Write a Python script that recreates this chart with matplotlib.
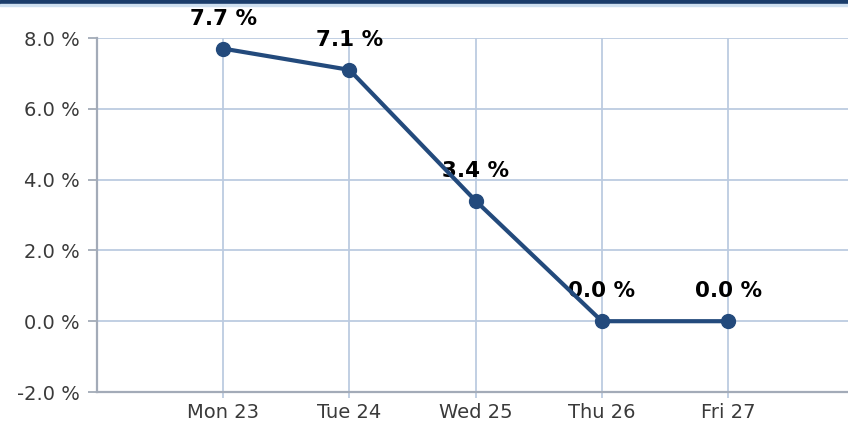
import matplotlib.pyplot as plt
from matplotlib.patches import Rectangle

days = ["Mon 23", "Tue 24", "Wed 25", "Thu 26", "Fri 27"]
change = [7.7, 7.1, 3.4, 0.0, 0.0]
yticks = [-2, 0, 2, 4, 6, 8]

navy = "#234a7c"
grid_col = "#bccbe0"
axis_col = "#a3abb8"

fig = plt.figure(figsize=(8.48, 4.28), dpi=100)
ax = fig.add_axes([97 / 848, 1 - 392 / 428, 1 - 97 / 848, (392 - 38) / 428])

# top banner
fig.patches.append(Rectangle((0, 1 - 4 / 428), 1, 4 / 428, transform=fig.transFigure,
                             color="#1b3d6b", zorder=0))
fig.patches.append(Rectangle((0, 1 - 6 / 428), 1, 2 / 428, transform=fig.transFigure,
                             color="#cfe0f0", zorder=0))

x = list(range(1, len(days) + 1))
ax.plot(x, change, color=navy, lw=3, marker="o", ms=10, zorder=3, clip_on=False)

for xi, v in zip(x, change):
    ax.annotate(f"{v:.1f} %", (xi, v), xytext=(0, 21.5), textcoords="offset points",
                ha="center", va="center", fontsize=15.5, fontweight="bold",
                family="DejaVu Sans", color="black", zorder=2)

ax.set_xlim(0, 5.95)
ax.set_ylim(-2, 8)
ax.set_xticks(x)
ax.set_xticklabels(days)
ax.set_yticks(yticks)
ax.set_yticklabels([f"{t:.1f} %" for t in yticks])

ax.grid(True, color=grid_col, lw=1.3)
ax.set_axisbelow(True)
for s in ["top", "right"]:
    ax.spines[s].set_visible(False)
for s in ["left", "bottom"]:
    ax.spines[s].set_color(axis_col)
    ax.spines[s].set_linewidth(1.6)

ax.tick_params(axis="y", length=6.5, width=1.3, color=axis_col, pad=6,
               labelsize=14, labelcolor="#3a3a3a")
ax.tick_params(axis="x", length=4, width=1.3, color=grid_col, pad=4,
               labelsize=14, labelcolor="#3a3a3a")
for lab in ax.get_xticklabels() + ax.get_yticklabels():
    lab.set_family("DejaVu Sans")

fig.savefig("out.png", dpi=100)
